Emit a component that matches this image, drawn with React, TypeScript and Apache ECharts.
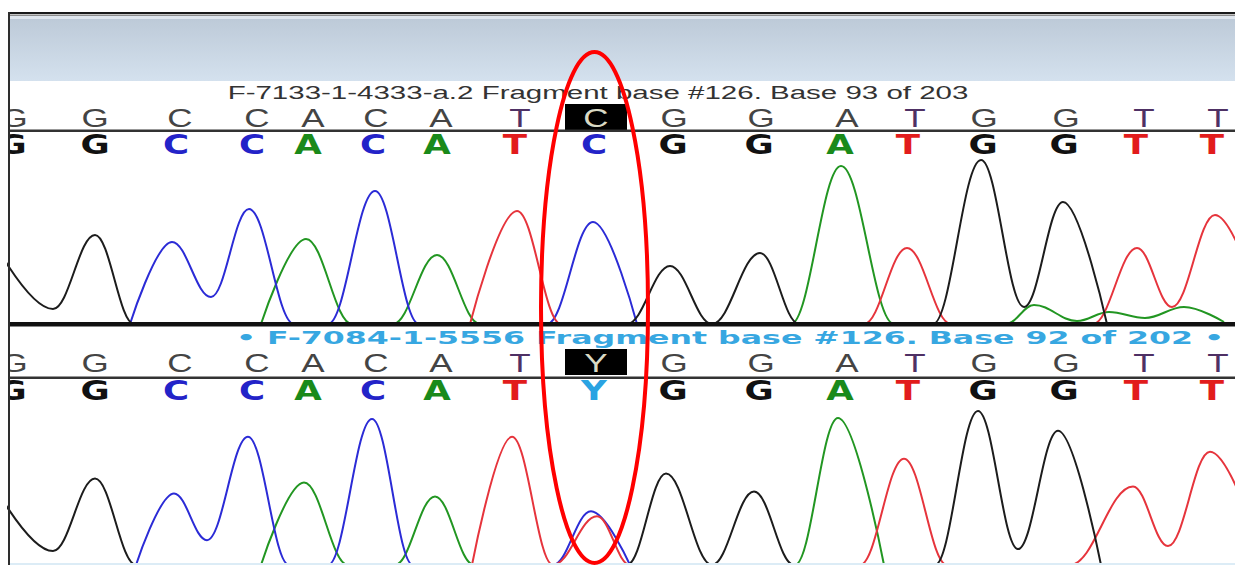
import React, { useEffect, useRef } from 'react';
import * as echarts from 'echarts';

// ---- texts ----
const topTitle = 'F-7133-1-4333-a.2 Fragment base #126. Base 93 of 203';
const bottomTitle = '\u2022 F-7084-1-5556 Fragment base #126. Base 92 of 202 \u2022';

// ---- base calls ----
const refRowPositions = [14, 95, 180, 257, 313, 376, 441, 520, 596, 674, 761, 847, 915, 984, 1066, 1144, 1218];
const callRowPositions = [12, 95, 176, 252, 308, 373, 437, 515, 594, 673, 759, 840, 908, 983, 1064, 1136, 1212];
const topRefBases = ['G', 'G', 'C', 'C', 'A', 'C', 'A', 'T', 'C', 'G', 'G', 'A', 'T', 'G', 'G', 'T', 'T'];
const topCallBases = ['G', 'G', 'C', 'C', 'A', 'C', 'A', 'T', 'C', 'G', 'G', 'A', 'T', 'G', 'G', 'T', 'T'];
const bottomRefBases = ['G', 'G', 'C', 'C', 'A', 'C', 'A', 'T', 'Y', 'G', 'G', 'A', 'T', 'G', 'G', 'T', 'T'];
const bottomCallBases = ['G', 'G', 'C', 'C', 'A', 'C', 'A', 'T', 'Y', 'G', 'G', 'A', 'T', 'G', 'G', 'T', 'T'];
const highlightIndex = 8;

// ---- top trace (scan position, intensity) : peaks, troughs and baseline points ----
const topBlack = [[-16, 100], [53, 15], [95, 89], [134, 0], [627, 0], [670, 58], [712, 0], [760, 71], [799, 0], [933, 0], [981, 164], [1024, 17], [1063, 122], [1107, 0]];
const topBlue = [[130, 0], [172, 82], [211, 27], [249, 115], [294, 0], [328, 0], [375, 133], [419, 0], [547, 0], [593, 102], [637, 0]];
const topGreen = [[261, 0], [306, 85], [352, 0], [393, 0], [437, 69], [480, 0], [791, 0], [841, 158], [894, 0], [1006, 0], [1034, 19], [1077, 3], [1109, 12], [1145, 6], [1184, 17], [1224, 2]];
const topRed = [[470, 0], [517, 113], [561, 0], [864, 0], [907, 76], [951, 0], [1093, 0], [1137, 76], [1172, 17], [1215, 109], [1262, 15]];

// ---- bottom trace ----
const botBlack = [[-16, 98], [53, 14], [95, 87], [136, 0], [627, 0], [666, 92], [712, 0], [754, 74], [794, 0], [935, 0], [978, 155], [1018, 16], [1058, 135], [1101, 0]];
const botBlue = [[136, 0], [174, 72], [207, 25], [248, 129], [289, 0], [328, 0], [372, 147], [413, 0], [553, 0], [591, 54], [630, 0]];
const botGreen = [[261, 0], [304, 83], [348, 0], [395, 0], [435, 69], [474, 0], [795, 0], [838, 148], [884, 0]];
const botRed = [[472, 0], [512, 129], [553, 0], [597, 49], [630, 0], [860, 0], [904, 107], [947, 0], [1070, 0], [1133, 79], [1168, 19], [1210, 114], [1262, 10]];

const baseColors: Record<string, string> = {
  G: '#111111',
  C: '#2323c8',
  A: '#1a8a1a',
  T: '#e21c1c',
  Y: '#2aa3e2',
};

const traceColors = { black: '#1c1c1c', blue: '#2b2bd6', green: '#229622', red: '#e6343c' };

function measure(text: string, font: string): number {
  const ctx = document.createElement('canvas').getContext('2d');
  if (!ctx) return 1;
  ctx.font = font;
  return ctx.measureText(text).width;
}

export default function App() {
  const ref = useRef<HTMLDivElement>(null);

  useEffect(() => {
    if (!ref.current) return;
    const chart = echarts.init(ref.current, undefined, { renderer: 'svg', width: 1235, height: 565 });

    const grids = [
      { left: 8, right: 0, top: 150, height: 174 }, // top traces
      { left: 8, right: 0, top: 405, height: 161 }, // bottom traces
      { left: 8, right: 0, top: 98, height: 40 }, // top ref row
      { left: 8, right: 0, top: 125, height: 40 }, // top call row
      { left: 8, right: 0, top: 343, height: 40 }, // bottom ref row
      { left: 8, right: 0, top: 371, height: 40 }, // bottom call row
    ];
    const xAxes = grids.map((_, i) => ({ type: 'value', gridIndex: i, min: 8, max: 1235, show: false }));
    const yMax = [174, 161, 1, 1, 1, 1];
    const yAxes = grids.map((_, i) => ({ type: 'value', gridIndex: i, min: 0, max: yMax[i], show: false }));

    const traceSeries = (data: number[][], color: string, axis: number, name: string) => ({
      type: 'line',
      name,
      xAxisIndex: axis,
      yAxisIndex: axis,
      data,
      smooth: 0.38,
      smoothMonotone: 'x',
      symbol: 'none',
      showSymbol: false,
      clip: true,
      lineStyle: { color, width: 2 },
      z: 2,
    });

    const letterSeries = (
      axis: number,
      positions: number[],
      letters: string[],
      kind: 'ref' | 'call',
    ) => ({
      type: 'custom',
      xAxisIndex: axis,
      yAxisIndex: axis,
      clip: true,
      data: positions.map((p, i) => [p, i]),
      renderItem: (params: any, api: any) => {
        const idx = params.dataIndex;
        const pt = api.coord([api.value(0), 0.5]);
        const letter = letters[idx];
        const isHi = kind === 'ref' && idx === highlightIndex;
        const fill = kind === 'ref'
          ? (isHi ? '#d9d9c4' : letter === 'T' ? '#4e3064' : '#444444')
          : baseColors[letter];
        const text = {
          type: 'text',
          x: pt[0],
          y: pt[1],
          scaleX: kind === 'ref' ? 1.4 : 1.32,
          style: {
            text: letter,
            fill,
            font: kind === 'ref' ? 'normal 25px "Liberation Sans", Arial, sans-serif' : 'bold 27px "DejaVu Sans", sans-serif',
            align: 'center',
            verticalAlign: 'middle',
            textAlign: 'center',
            textVerticalAlign: 'middle',
          },
        };
        if (isHi) {
          return {
            type: 'group',
            children: [
              { type: 'rect', shape: { x: pt[0] - 31, y: pt[1] - 14, width: 62, height: 26 }, style: { fill: '#000000' } },
              text,
            ],
          };
        }
        return text;
      },
      z: 5,
    });

    const topFont = 'normal 19px "Liberation Sans"';
    const botFont = 'bold 18px "DejaVu Sans"';
    const topScale = 741 / measure(topTitle, topFont);
    const botScale = 988 / measure(bottomTitle, botFont);

    const option: any = {
      animation: false,
      backgroundColor: '#ffffff',
      grid: grids,
      xAxis: xAxes,
      yAxis: yAxes,
      series: [
        traceSeries(topGreen, traceColors.green, 0, 'A'),
        traceSeries(topBlue, traceColors.blue, 0, 'C'),
        traceSeries(topRed, traceColors.red, 0, 'T'),
        traceSeries(topBlack, traceColors.black, 0, 'G'),
        traceSeries(botGreen, traceColors.green, 1, 'A2'),
        traceSeries(botBlue, traceColors.blue, 1, 'C2'),
        traceSeries(botRed, traceColors.red, 1, 'T2'),
        traceSeries(botBlack, traceColors.black, 1, 'G2'),
        letterSeries(2, refRowPositions, topRefBases, 'ref'),
        letterSeries(3, callRowPositions, topCallBases, 'call'),
        letterSeries(4, refRowPositions, bottomRefBases, 'ref'),
        letterSeries(5, callRowPositions, bottomCallBases, 'call'),
      ],
      graphic: [
        // header band
        {
          type: 'rect', z: 0,
          shape: { x: 8, y: 16, width: 1227, height: 65 },
          style: {
            fill: new echarts.graphic.LinearGradient(0, 0, 0, 1, [
              { offset: 0, color: '#bcc9d7' },
              { offset: 1, color: '#d4e1ee' },
            ]),
          },
        },
        { type: 'rect', z: 1, shape: { x: 8, y: 16, width: 1227, height: 3 }, style: { fill: '#dfe6ee' } },
        // frame
        { type: 'rect', z: 60, shape: { x: 8, y: 12, width: 1227, height: 2 }, style: { fill: '#1a1a1a' } },
        { type: 'rect', z: 60, shape: { x: 8, y: 14.5, width: 1227, height: 1.5 }, style: { fill: '#8a8a8a' } },
        { type: 'rect', z: 60, shape: { x: 8, y: 12, width: 2, height: 553 }, style: { fill: '#2e2e2e' } },
        // titles
        {
          type: 'text', z: 10, x: 598, y: 92, scaleX: topScale,
          style: { text: topTitle, font: topFont, fill: '#333333', align: 'center', verticalAlign: 'middle', textAlign: 'center', textVerticalAlign: 'middle' },
        },
        {
          type: 'text', z: 10, x: 730, y: 338, scaleX: botScale,
          style: { text: bottomTitle, font: botFont, fill: '#37a7e1', align: 'center', verticalAlign: 'middle', textAlign: 'center', textVerticalAlign: 'middle' },
        },
        // separator lines under reference rows
        { type: 'rect', z: 20, shape: { x: 8, y: 129.5, width: 1227, height: 2.5 }, style: { fill: '#333333' } },
        { type: 'rect', z: 20, shape: { x: 8, y: 376.5, width: 1227, height: 2.5 }, style: { fill: '#333333' } },
        // top trace baseline
        { type: 'rect', z: 50, shape: { x: 8, y: 322, width: 1227, height: 4.5 }, style: { fill: '#111111' } },
        { type: 'rect', z: 50, shape: { x: 8, y: 563, width: 1227, height: 2 }, style: { fill: '#dcecf6' } },
        // highlight ellipse
        {
          type: 'ellipse', z: 100,
          shape: { cx: 594.5, cy: 307.5, rx: 53.5, ry: 255.5 },
          style: { fill: 'none', stroke: '#ff0000', lineWidth: 4 },
        },
      ],
    };

    chart.setOption(option);
    return () => chart.dispose();
  }, []);

  return (
    <div
      ref={ref}
      style={{ position: 'fixed', left: 0, top: 0, width: 1235, height: 565, background: '#ffffff' }}
    />
  );
}
